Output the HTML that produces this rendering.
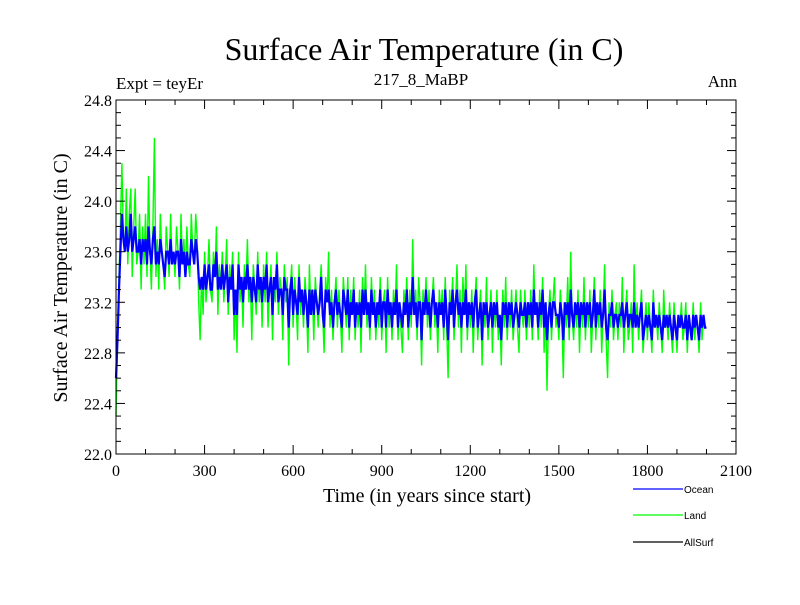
<!DOCTYPE html>
<html><head><meta charset="utf-8"><style>
body{margin:0;background:#fff;}
svg text{font-family:"Liberation Serif",serif;}
</style></head><body>
<svg id="chart" width="800" height="600" xmlns="http://www.w3.org/2000/svg">
<rect width="800" height="600" fill="#fff"/>
<text x="424" y="60" font-size="32" text-anchor="middle">Surface Air Temperature (in C)</text>
<text x="116" y="89" font-size="17">Expt = teyEr</text>
<text x="421" y="85" font-size="17" text-anchor="middle">217_8_MaBP</text>
<text x="737" y="87" font-size="17" text-anchor="end">Ann</text>
<text transform="translate(67,278) rotate(-90)" font-size="20" text-anchor="middle">Surface Air Temperature (in C)</text>
<text x="427" y="502" font-size="20" text-anchor="middle">Time (in years since start)</text>
<g id="plot"></g>
<g id="axes"></g>
<g id="legend"></g>
</svg>
<script>
const yearStep = 5;
const landValues = [
22.3,22.9,23.4,23.8,24.3,23.7,23.6,24.1,23.5,23.9,24.1,23.4,23.8,24.1,23.5,23.6,23.9,23.3,23.8,23.5,
23.9,23.4,24.2,23.6,23.3,23.8,24.5,23.4,23.7,23.3,23.9,23.6,23.5,23.3,23.8,23.6,23.4,23.9,23.5,23.6,
23.4,23.8,23.6,23.3,23.9,23.5,23.7,23.4,23.8,23.5,23.4,23.9,23.6,23.5,23.9,23.7,23.2,22.9,23.4,23.1,
23.6,23.2,23.4,23.7,23.3,23.2,23.6,23.4,23.8,23.1,23.5,23.3,23.6,23.2,23.4,23.7,23.1,23.5,23.3,23.6,
22.9,23.3,22.8,23.6,23.2,23.4,23.0,23.5,23.3,23.7,23.2,23.4,22.9,23.5,23.3,23.1,23.6,23.2,23.4,23.0,
23.5,23.2,23.6,23.0,23.3,23.5,22.9,23.4,23.2,23.6,23.1,23.4,23.3,22.9,23.5,23.2,23.4,22.7,23.3,23.5,
23.0,23.4,23.2,22.9,23.5,23.1,23.3,23.0,23.4,23.2,22.8,23.5,23.1,23.3,22.9,23.4,23.2,23.0,23.3,23.5,
23.1,22.8,23.4,23.2,23.6,23.0,23.3,22.9,23.2,23.4,23.0,23.3,23.1,22.8,23.4,23.2,23.0,23.4,22.9,23.3,
23.1,23.4,22.9,23.2,23.0,23.3,22.8,23.4,23.1,23.5,23.0,23.2,22.9,23.4,23.1,23.3,22.9,23.2,23.0,23.4,
22.9,23.2,23.3,22.8,23.4,23.0,23.2,22.9,23.3,23.1,23.5,22.9,23.2,23.0,22.8,23.3,23.1,23.4,22.9,23.3,
23.0,23.7,23.1,23.3,22.9,23.4,23.2,22.7,23.3,23.1,23.4,23.0,23.3,22.9,23.2,23.4,23.0,23.2,22.8,23.3,
23.1,23.3,22.9,23.4,23.0,22.6,23.3,23.1,23.4,22.9,23.2,23.5,23.0,23.3,22.8,23.4,23.1,23.5,22.9,23.2,
23.0,23.3,22.8,23.2,23.4,22.9,23.1,23.3,22.7,23.2,23.0,23.4,22.9,23.1,23.3,22.8,23.2,23.0,23.3,22.9,
23.1,22.7,23.3,23.0,23.4,22.9,23.2,23.0,23.3,22.9,23.1,23.3,23.0,22.8,23.3,23.1,23.0,23.3,22.9,23.2,
23.0,23.3,22.9,23.5,23.1,23.2,22.9,23.3,23.0,23.4,22.8,23.2,22.5,23.1,23.3,22.9,23.2,23.4,23.0,23.1,
22.9,23.3,23.1,22.6,23.2,23.0,23.4,22.9,23.6,23.1,22.9,23.2,23.0,23.3,22.8,23.2,23.0,23.4,22.9,23.2,
23.0,23.3,22.8,23.1,23.4,22.9,23.2,23.0,23.3,22.8,23.1,23.5,22.9,22.6,23.2,23.0,23.3,22.9,23.1,23.2,
22.9,23.2,23.0,23.4,22.8,23.1,23.3,22.9,23.0,23.2,22.8,23.5,23.0,23.2,22.9,23.1,23.3,22.8,23.0,23.2,
22.9,23.2,23.0,22.8,23.3,23.0,23.1,22.9,23.2,23.0,22.8,23.3,23.0,23.1,22.9,23.2,23.0,22.8,23.2,23.0,
22.8,23.1,23.0,23.2,22.9,23.0,23.2,22.8,23.1,23.0,22.9,23.2,22.9,23.1,23.0,22.8,23.2,22.9,23.1,23.0,
23.0];
const oceanValues = [
22.6,22.9,23.3,23.6,23.9,23.7,23.6,23.8,23.6,23.7,23.9,23.6,23.7,23.8,23.6,23.6,23.7,23.5,23.7,23.6,
23.7,23.5,23.8,23.6,23.5,23.7,23.8,23.5,23.6,23.5,23.7,23.6,23.5,23.4,23.6,23.6,23.5,23.7,23.5,23.6,
23.5,23.6,23.6,23.4,23.7,23.5,23.6,23.4,23.6,23.5,23.5,23.7,23.6,23.5,23.7,23.6,23.4,23.3,23.4,23.3,
23.5,23.3,23.4,23.5,23.3,23.3,23.5,23.4,23.6,23.3,23.4,23.3,23.5,23.3,23.4,23.5,23.2,23.4,23.3,23.5,
23.1,23.3,23.1,23.5,23.3,23.4,23.2,23.4,23.3,23.5,23.3,23.4,23.2,23.4,23.3,23.2,23.5,23.3,23.4,23.2,
23.4,23.3,23.5,23.2,23.3,23.4,23.1,23.4,23.3,23.5,23.2,23.3,23.3,23.1,23.4,23.3,23.3,23.0,23.3,23.4,
23.1,23.3,23.2,23.1,23.4,23.2,23.3,23.1,23.3,23.2,23.0,23.3,23.1,23.3,23.1,23.3,23.2,23.1,23.2,23.4,
23.1,23.0,23.3,23.2,23.3,23.1,23.2,23.0,23.2,23.3,23.1,23.2,23.1,23.0,23.3,23.2,23.1,23.3,23.0,23.2,
23.1,23.3,23.0,23.2,23.1,23.2,23.0,23.3,23.1,23.3,23.1,23.2,23.0,23.3,23.1,23.2,23.0,23.2,23.1,23.3,
23.0,23.2,23.2,23.0,23.3,23.1,23.2,23.0,23.2,23.1,23.3,23.0,23.2,23.1,23.0,23.2,23.1,23.3,23.0,23.2,
23.1,23.4,23.1,23.2,23.0,23.2,23.2,22.9,23.2,23.1,23.3,23.1,23.2,23.0,23.2,23.3,23.1,23.2,23.0,23.2,
23.1,23.2,23.0,23.3,23.1,22.9,23.2,23.1,23.3,23.0,23.2,23.3,23.1,23.2,23.0,23.2,23.1,23.3,23.0,23.2,
23.1,23.2,23.0,23.2,23.3,23.0,23.1,23.2,22.9,23.2,23.1,23.2,23.0,23.1,23.2,23.0,23.2,23.1,23.2,23.0,
23.1,22.9,23.2,23.1,23.2,23.0,23.2,23.1,23.2,23.0,23.1,23.2,23.1,23.0,23.2,23.1,23.1,23.2,23.0,23.2,
23.1,23.2,23.0,23.3,23.1,23.2,23.0,23.2,23.1,23.3,23.0,23.2,22.9,23.1,23.2,23.0,23.2,23.2,23.1,23.1,
23.0,23.2,23.1,22.9,23.2,23.1,23.2,23.0,23.3,23.1,23.0,23.2,23.1,23.2,23.0,23.2,23.1,23.2,23.0,23.2,
23.1,23.2,23.0,23.1,23.3,23.0,23.2,23.1,23.2,23.0,23.1,23.3,23.0,22.9,23.1,23.1,23.2,23.0,23.1,23.1,
23.0,23.1,23.1,23.2,23.0,23.1,23.2,23.0,23.1,23.1,23.0,23.2,23.0,23.1,23.0,23.1,23.2,22.9,23.0,23.1,
23.0,23.1,23.0,22.9,23.2,23.0,23.1,23.0,23.1,23.0,22.9,23.1,23.0,23.1,23.0,23.1,23.0,22.9,23.1,23.0,
22.9,23.1,23.0,23.1,23.0,23.0,23.1,22.9,23.1,23.0,22.9,23.1,23.0,23.1,23.0,22.9,23.1,23.0,23.1,23.0,
23.0];
const xTicks = [0,300,600,900,1200,1500,1800,2100];
const yTicks = ["22.0","22.4","22.8","23.2","23.6","24.0","24.4","24.8"];

const L=116,R=736,T=100,B=454,xMax=2100,yMin=22.0,yMax=24.8;
const sx=v=>L+(v/xMax)*(R-L);
const sy=v=>B-(v-yMin)/(yMax-yMin)*(B-T);
const NS="http://www.w3.org/2000/svg";
function mk(tag,attrs,parent){const e=document.createElementNS(NS,tag);for(const k in attrs)e.setAttribute(k,attrs[k]);parent.appendChild(e);return e;}
const plot=document.getElementById('plot');
function pts(vals){return vals.map((v,i)=>sx(i*yearStep).toFixed(1)+','+sy(v).toFixed(1)).join(' ');}
const land=mk('polyline',{points:pts(landValues),fill:'none',stroke:'#00ff00','stroke-width':1.4},plot);


const ocean=mk('polyline',{points:pts(oceanValues),fill:'none',stroke:'#0000ff','stroke-width':2.2},plot);



const ax=document.getElementById('axes');
const frame=mk('rect',{x:L,y:T,width:R-L,height:B-T,fill:'none',stroke:'#000','stroke-width':1},ax);


for(let v=0;v<=xMax;v+=100){
  const x=sx(v),len=(v%300===0)?9:5;
  mk('line',{x1:x,y1:B,x2:x,y2:B-len,stroke:'#000'},ax);
  mk('line',{x1:x,y1:T,x2:x,y2:T+len,stroke:'#000'},ax);
}
for(let k=0;k<=28;k++){
  const v=22+k*0.1,y=sy(v),len=(k%4===0)?9:5;
  mk('line',{x1:L,y1:y,x2:L+len,y2:y,stroke:'#000'},ax);
  mk('line',{x1:R,y1:y,x2:R-len,y2:y,stroke:'#000'},ax);
}
xTicks.forEach(v=>{
  const t=mk('text',{x:sx(v),y:B+22,'font-size':16,'text-anchor':'middle'},ax);
  t.textContent=v;
  
  
});
yTicks.forEach(s=>{
  const t=mk('text',{x:L-4,y:sy(parseFloat(s))+6,'font-size':16,'text-anchor':'end'},ax);
  t.textContent=s;
  
  
});
const lg=document.getElementById('legend');
[['Ocean','#0000ff',489],['Land','#00ff00',515],['AllSurf','#000',542]].forEach(([n,c,y])=>{
  const g=mk('g',{},lg);
  
  
  mk('line',{x1:633,y1:y,x2:683,y2:y,stroke:c,'stroke-width':1.3},g);
  const t=mk('text',{x:684,y:y+4,'font-size':10,style:'font-family:"Liberation Sans",sans-serif'},g);
  t.textContent=n;
});
</script>
</body></html>
